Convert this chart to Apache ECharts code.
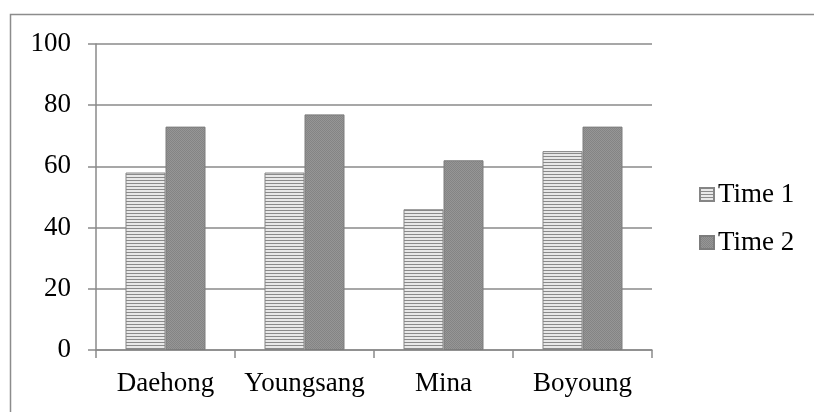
<!DOCTYPE html>
<html>
<head>
<meta charset="utf-8">
<script src="https://cdn.jsdelivr.net/npm/echarts@6/dist/echarts.min.js"></script>
<style>
  html, body { margin: 0; padding: 0; background: #fff; }
  #chart { width: 814px; height: 412px; }
</style>
</head>
<body>
<div id="chart"></div>
<script>
// Scores per student at two measurement points
const categories = ['Daehong', 'Youngsang', 'Mina', 'Boyoung'];
const time1 = [58, 58, 46, 65];
const time2 = [73, 77, 62, 73];
const seriesNames = ['Time 1', 'Time 2'];

// Fill textures: horizontal hatching and a fine dotted grey
function stripePattern() {
  const c = document.createElement('canvas');
  c.width = 4; c.height = 3;
  const g = c.getContext('2d');
  g.fillStyle = '#e8e8e8';
  g.fillRect(0, 0, 4, 3);
  g.fillStyle = '#8a8a8a';
  g.fillRect(0, 0, 4, 1);
  return { image: c, repeat: 'repeat' };
}
function dotPattern() {
  const c = document.createElement('canvas');
  c.width = 2; c.height = 2;
  const g = c.getContext('2d');
  g.fillStyle = '#969696';
  g.fillRect(0, 0, 2, 2);
  g.fillStyle = '#848484';
  g.fillRect(0, 0, 1, 1);
  g.fillRect(1, 1, 1, 1);
  return { image: c, repeat: 'repeat' };
}

const font = 'Liberation Serif';
const axisGrey = '#8a8a8a';

const chart = echarts.init(document.getElementById('chart'));
chart.setOption({
  animation: false,
  backgroundColor: '#fff',
  textStyle: { fontFamily: font },
  graphic: [{
    type: 'rect',
    shape: { x: 10.5, y: 14.5, width: 900, height: 600 },
    style: { fill: 'none', stroke: '#8c8c8c', lineWidth: 1.5 },
    silent: true
  }],
  grid: { left: 96, right: 162, top: 44, bottom: 62 },
  legend: {
    orient: 'vertical',
    left: 694,
    top: 176,
    itemWidth: 14,
    itemHeight: 13,
    itemGap: 21,
    icon: 'rect',
    textStyle: { fontFamily: font, fontSize: 27, color: '#000', padding: [0, 0, 0, -1] },
    data: seriesNames
  },
  xAxis: {
    type: 'category',
    data: categories,
    axisLine: { lineStyle: { color: axisGrey, width: 1.5 } },
    axisTick: { show: true, interval: 0, length: 8, lineStyle: { color: axisGrey, width: 1.5 } },
    axisLabel: { interval: 0, fontFamily: font, fontSize: 27, color: '#000', margin: 20 }
  },
  yAxis: {
    type: 'value',
    min: 0,
    max: 100,
    interval: 20,
    axisLine: { show: true, lineStyle: { color: axisGrey, width: 1.5 } },
    axisTick: { show: true, length: 8, lineStyle: { color: axisGrey, width: 1.5 } },
    splitLine: { lineStyle: { color: axisGrey, width: 1.5 } },
    axisLabel: { fontFamily: font, fontSize: 27, color: '#000', margin: 25 }
  },
  series: [
    {
      name: seriesNames[0],
      type: 'bar',
      data: time1,
      barWidth: 40,
      barGap: '0%',
      itemStyle: { color: stripePattern(), borderColor: '#858585', borderWidth: 1 }
    },
    {
      name: seriesNames[1],
      type: 'bar',
      data: time2,
      barWidth: 40,
      itemStyle: { color: dotPattern(), borderColor: '#7c7c7c', borderWidth: 1 }
    }
  ]
});
</script>
</body>
</html>
